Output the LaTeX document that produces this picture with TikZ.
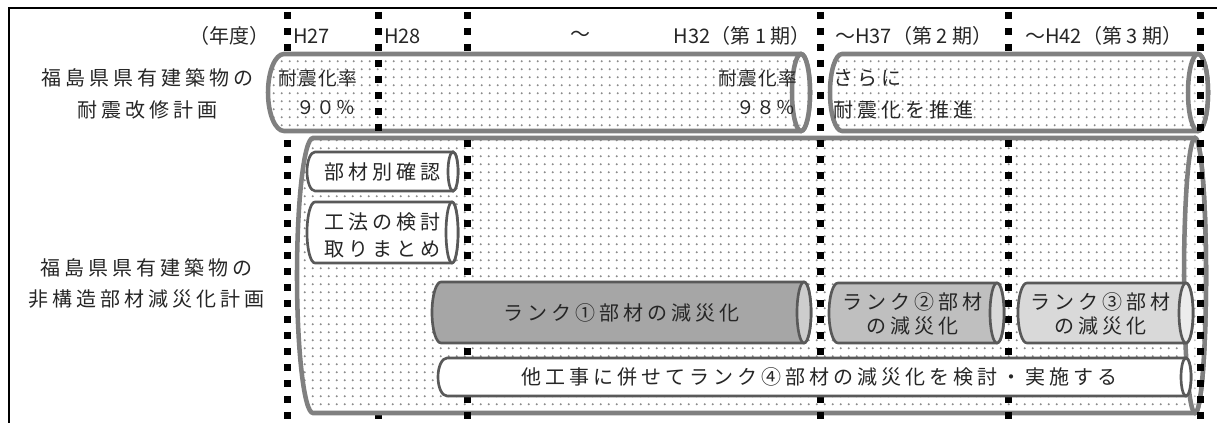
\documentclass[tikz,border=0pt]{standalone}
\usepackage{fontspec}
\setmainfont{Noto Sans CJK JP}
\newfontfamily\jpsp[LetterSpace=20]{Noto Sans CJK JP}
\newfontfamily\jpsm[LetterSpace=8]{Noto Sans CJK JP}
\usetikzlibrary{patterns.meta}
\definecolor{rowline}{HTML}{808080}
\definecolor{inline}{HTML}{595959}
\definecolor{dotc}{HTML}{8C8C8C}
\definecolor{dotl}{HTML}{C0C0C0}
\definecolor{kA}{HTML}{A6A6A6}
\definecolor{kAe}{HTML}{CDCDCD}
\definecolor{kB}{HTML}{BFBFBF}
\definecolor{kBe}{HTML}{D9D9D9}
\definecolor{kC}{HTML}{D9D9D9}
\definecolor{kCe}{HTML}{ECECEC}
\definecolor{txt}{HTML}{262626}
\tikzdeclarepattern{
  name=gdots,
  type=uncolored,
  bottom left={(0pt,0pt)},
  top right={(5.8pt,5.8pt)},
  tile size={(5.8pt,5.8pt)},
  code={\fill (2.9pt,2.9pt) circle[radius=0.8pt];}
}
% cylinder: x1 y1 x2 y2 leftrx rightrx bodystyle endstyle
\newcommand\mycyl[8]{%
  \pgfmathsetmacro\cyA{(#2+#4)/2}%
  \pgfmathsetmacro\cyR{(#4-#2)/2}%
  \pgfmathsetmacro\cyL{#1+#5}%
  \pgfmathsetmacro\cyE{#3-#6}%
  \path[#7] (\cyL,#2) -- (\cyE,#2) arc[start angle=-90,end angle=90,x radius=#6,y radius=\cyR] -- (\cyL,#4) arc[start angle=90,end angle=270,x radius=#5,y radius=\cyR] -- cycle;
  \path[#8] (\cyE,\cyA) ellipse[x radius=#6,y radius=\cyR];
}
\begin{document}
\begin{tikzpicture}[x=0.75pt,y=-0.75pt,
  jt/.style={font=\jpsp\fontsize{15pt}{18pt}\selectfont, text=txt, inner sep=0pt},
  ht/.style={font=\fontsize{15pt}{18pt}\selectfont, text=txt, inner sep=0pt},
  st/.style={font=\jpsm\fontsize{14pt}{16pt}\selectfont, text=txt, inner sep=0pt},
  vdash/.style={line width=5.25pt, dash pattern=on 5.25pt off 6.75pt},
  rowbody/.style={draw=rowline, line width=3.4pt, preaction={fill=white}, pattern=gdots, pattern color=dotc},
  rowend/.style={draw=rowline, line width=3.4pt, preaction={fill=white}, pattern=gdots, pattern color=dotl},
  inbody/.style={draw=inline, line width=2pt, fill=#1},
  inend/.style={draw=inline, line width=2pt, fill=#1}
]
\useasboundingbox (0,0) rectangle (1217,423);
% frame
\draw[line width=1.9pt] (9,423) -- (9,8) -- (1217,8);
% vertical period lines (bottom layer)
\coordinate (v1t) at (287,12); \coordinate (v1b) at (287,423);
\coordinate (v2t) at (378,12); \coordinate (v2b) at (378,423);
\coordinate (v3t) at (467,12); \coordinate (v3b) at (467,423);
\coordinate (v4t) at (820,12); \coordinate (v4b) at (820,423);
\coordinate (v5t) at (1008,12); \coordinate (v5b) at (1008,423);
\coordinate (v6t) at (1200,12); \coordinate (v6b) at (1200,423);
\draw[vdash] (v1t) -- (v1b);
\draw[vdash] (v2t) -- (v2b);
\draw[vdash] (v3t) -- (v3b);
\draw[vdash] (v5t) -- (v5b);
% row 1 cylinders
\mycyl{268}{54}{810}{131}{16}{9}{rowbody}{rowend}
\mycyl{830}{54}{1208}{131}{12}{10}{rowbody}{rowend}
\begin{scope}
  \clip (340,50) rectangle (420,136);
  \draw[vdash] (v2t) -- (v2b);
\end{scope}
% row 2 big cylinder
\mycyl{297}{138}{1206}{413}{16}{11}{rowbody}{rowend}
\begin{scope}
  \clip (420,136) rectangle (1100,416);
  \draw[vdash] (v3t) -- (v3b);
  \draw[vdash] (v5t) -- (v5b);
\end{scope}
\draw[vdash] (v4t) -- (v4b);
% inner cylinders
\mycyl{307}{152}{458}{191}{8}{5}{inbody=white}{inend=white}
\mycyl{307}{202}{458}{263}{8}{6}{inbody=white}{inend=white}
\mycyl{432}{282}{811}{343}{9}{7}{inbody=kA}{inend=kAe}
\mycyl{829}{283}{1004}{343}{9}{7}{inbody=kB}{inend=kBe}
\mycyl{1018}{283}{1193}{343}{9}{7}{inbody=kC}{inend=kCe}
\mycyl{438}{358}{1191}{396}{9}{5}{inbody=white}{inend=white}
% top-layer line
\draw[vdash] (v6t) -- (v6b);
% header
\node[ht, anchor=east] (hdr0) at (270,36) {（年度）};
\node[ht, anchor=west] (hdr1) at (293,36) {H27};
\node[ht, anchor=west] (hdr2) at (384,36) {H28};
\node[ht] (hdr3) at (580,36) {～};
\node[ht, anchor=east] (hdr4) at (811,36) {H32（第 1 期）};
\node[ht, anchor=west] (hdr5) at (835,36) {～H37（第 2 期）};
\node[ht, anchor=west] (hdr6) at (1025,36) {～H42（第 3 期）};
% row labels
\node[jt] (r1a) at (147,78) {福島県県有建築物の};
\node[jt] (r1b) at (147,110) {耐震改修計画};
\node[jt] (r2a) at (146,268) {福島県県有建築物の};
\node[jt] (r2b) at (146,299) {非構造部材減災化計画};
% row 1 texts
\node[st] (c1a) at (318,78) {耐震化率};
\node[st] (c1b) at (326,108) {９０％};
\node[st] (c1c) at (758,78) {耐震化率};
\node[st] (c1d) at (766,108) {９８％};
\node[jt, anchor=west] (c2a) at (833,78) {さらに};
\node[jt, anchor=west] (c2b) at (833,110) {耐震化を推進};
% row 2 texts
\node[jt] (b1) at (382,172) {部材別確認};
\node[jt] (b2a) at (382,222) {工法の検討};
\node[jt] (b2b) at (382,249) {取りまとめ};
\node[jt] (k1) at (621,313) {ランク①部材の減災化};
\node[jt] (k2a) at (912,302) {ランク②部材};
\node[jt] (k2b) at (912,326) {の減災化};
\node[jt] (k3a) at (1100,302) {ランク③部材};
\node[jt] (k3b) at (1100,326) {の減災化};
\node[jt] (k4) at (819,377) {他工事に併せてランク④部材の減災化を検討・実施する};
\end{tikzpicture}
\end{document}
